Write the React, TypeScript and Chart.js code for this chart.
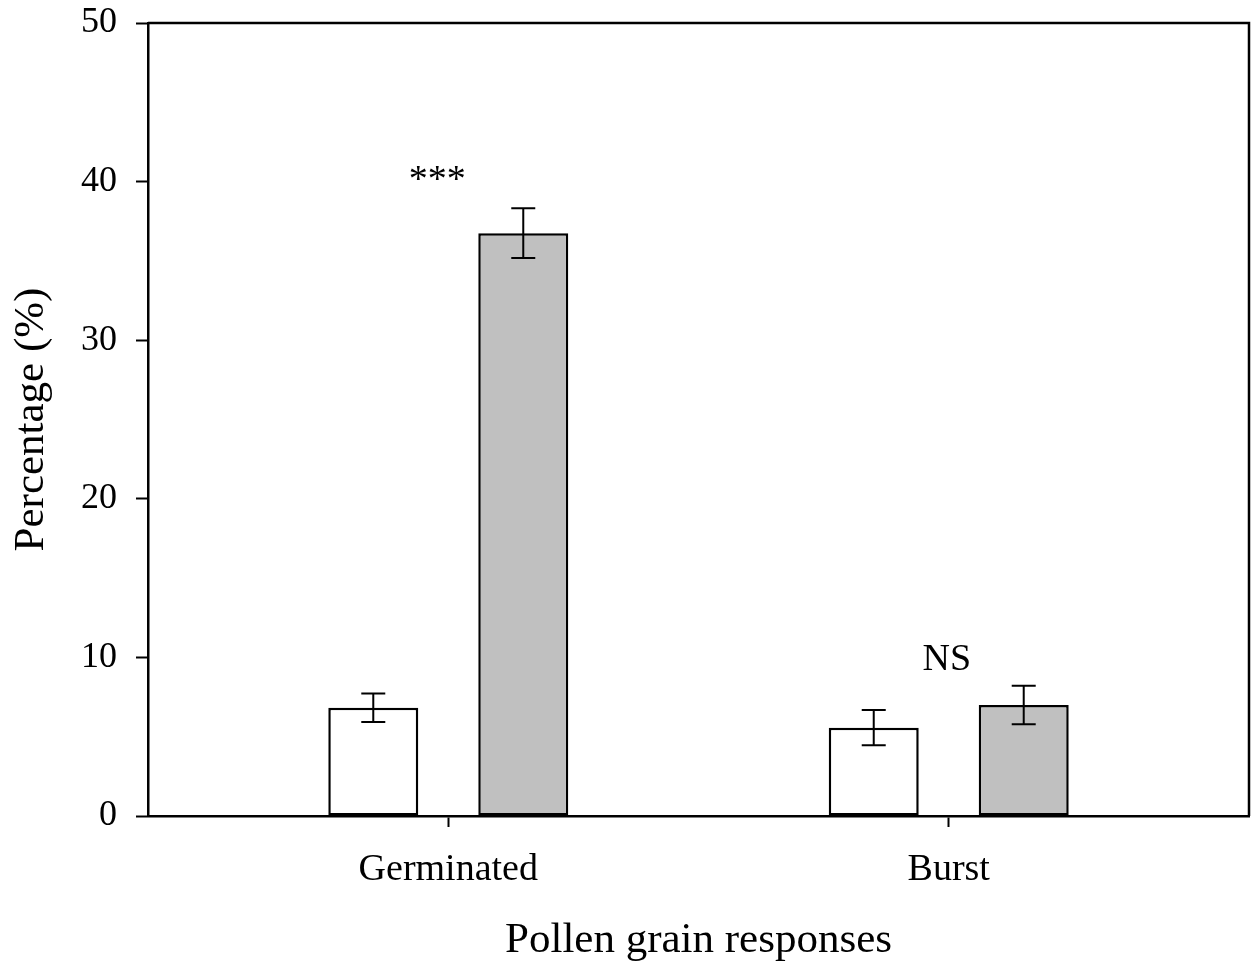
import React, { useEffect, useRef } from "react";
import { Chart, registerables } from "chart.js";

Chart.register(...registerables);

const categories = ["Germinated", "Burst"];
const categoryPositions = [0, 1];
const controlValues = [6.83, 5.57];
const controlErrors = [0.9, 1.11];
const treatedValues = [36.75, 7.0];
const treatedErrors = [1.57, 1.21];
const annotationTexts = ["***", "NS"];
const annotationX = [-0.022, 0.996];
const annotationY = [39.4, 9.2];
const yTicks = [0, 10, 20, 30, 40, 50];

const FONT = "'Liberation Serif', 'Times New Roman', serif";

const errorBarPlugin = {
  id: "errorBars",
  afterDatasetsDraw(chart: any) {
    const ctx = chart.ctx;
    const yScale = chart.scales.y;
    const errs = [controlErrors, treatedErrors];
    const vals = [controlValues, treatedValues];
    ctx.save();
    ctx.strokeStyle = "#000";
    ctx.lineWidth = 2;
    chart.data.datasets.forEach((_ds: any, di: number) => {
      const meta = chart.getDatasetMeta(di);
      meta.data.forEach((el: any, i: number) => {
        const x = el.x;
        const top = yScale.getPixelForValue(vals[di][i] + errs[di][i]);
        const bot = yScale.getPixelForValue(vals[di][i] - errs[di][i]);
        const cap = 12;
        ctx.beginPath();
        ctx.moveTo(x, top);
        ctx.lineTo(x, bot);
        ctx.moveTo(x - cap, top);
        ctx.lineTo(x + cap, top);
        ctx.moveTo(x - cap, bot);
        ctx.lineTo(x + cap, bot);
        ctx.stroke();
      });
    });
    ctx.restore();
  },
};

const framePlugin = {
  id: "frame",
  afterDraw(chart: any) {
    const { ctx, chartArea } = chart;
    ctx.save();
    ctx.strokeStyle = "#000";
    ctx.lineWidth = 2.5;
    ctx.beginPath();
    ctx.moveTo(chartArea.left, chartArea.top);
    ctx.lineTo(chartArea.right, chartArea.top);
    ctx.lineTo(chartArea.right, chartArea.bottom);
    ctx.stroke();
    ctx.restore();
  },
};

const annotationPlugin = {
  id: "annotations",
  afterDraw(chart: any) {
    const { ctx, scales } = chart;
    ctx.save();
    ctx.fillStyle = "#000";
    ctx.font = `38px ${FONT}`;
    ctx.textAlign = "center";
    ctx.textBaseline = "alphabetic";
    annotationTexts.forEach((t, i) => {
      ctx.fillText(t, scales.x.getPixelForValue(annotationX[i]), scales.y.getPixelForValue(annotationY[i]));
    });
    ctx.restore();
  },
};

export default function App() {
  const ref = useRef<HTMLCanvasElement>(null);
  useEffect(() => {
    document.body.style.margin = "0";
    const canvas = ref.current!;
    const chart = new Chart(canvas, {
      type: "bar",
      data: {
        datasets: [
          {
            data: controlValues.map((v, i) => ({ x: categoryPositions[i], y: v })),
            backgroundColor: "#ffffff",
            borderColor: "#000",
            borderWidth: 2.5,
            borderSkipped: false,
          },
          {
            data: treatedValues.map((v, i) => ({ x: categoryPositions[i], y: v })),
            backgroundColor: "#c0c0c0",
            borderColor: "#000",
            borderWidth: 2.5,
            borderSkipped: false,
          },
        ],
      } as any,
      options: {
        animation: false,
        responsive: false,
        devicePixelRatio: 1,
        layout: { padding: { top: 0, right: 3, left: 0, bottom: 0 } },
        datasets: { bar: { categoryPercentage: 0.5994, barPercentage: 0.6 } } as any,
        plugins: { legend: { display: false }, tooltip: { enabled: false } },
        scales: {
          x: {
            type: "linear",
            min: -0.6,
            max: 1.6,
            offset: false,
            afterBuildTicks: (scale: any) => {
              scale.ticks = categoryPositions.map((v) => ({ value: v }));
            },
            afterFit: (scale: any) => {
              scale.height = 148;
            },
            ticks: {
              autoSkip: false,
              maxRotation: 0,
              color: "#000",
              font: { family: FONT, size: 38 },
              padding: 20,
              callback: (v: any) => {
                const idx = categoryPositions.indexOf(v);
                return idx >= 0 ? categories[idx] : "";
              },
            },
            grid: { offset: false, drawOnChartArea: false, drawTicks: true, tickLength: 11, tickColor: "#000", tickWidth: 2, color: "#000" },
            border: { display: true, color: "#000", width: 2.5 },
            title: {
              display: true,
              text: "Pollen grain responses",
              color: "#000",
              font: { family: FONT, size: 43 },
              padding: { top: 0, bottom: -3 },
            },
          },
          y: {
            min: 0,
            max: 50,
            afterBuildTicks: (scale: any) => {
              scale.ticks = yTicks.map((v) => ({ value: v }));
            },
            afterFit: (scale: any) => {
              scale.width = 148;
              scale.paddingTop = 23;
              scale.paddingBottom = 0;
            },
            ticks: {
              color: "#000",
              font: { family: FONT, size: 36 },
              padding: 19,
            },
            grid: { drawOnChartArea: false, drawTicks: true, tickLength: 12, tickColor: "#000", tickWidth: 2, color: "#000" },
            border: { display: true, color: "#000", width: 2.5 },
            title: {
              display: true,
              text: "Percentage (%)",
              color: "#000",
              font: { family: FONT, size: 43 },
              padding: { top: 6, bottom: 0 },
            },
          },
        },
      } as any,
      plugins: [errorBarPlugin, framePlugin, annotationPlugin],
    });
    return () => chart.destroy();
  }, []);
  return (
    <div style={{ width: 1252, height: 964, overflow: "hidden", background: "#fff" }}>
      <canvas ref={ref} width={1252} height={964} style={{ display: "block" }} />
    </div>
  );
}
